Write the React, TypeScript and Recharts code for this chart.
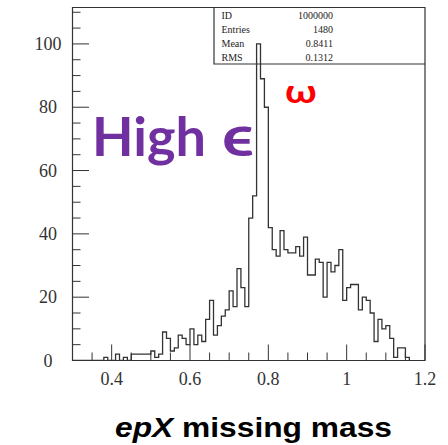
import React from 'react';
import { ComposedChart, Line, XAxis, YAxis, ReferenceArea } from 'recharts';

// Histogram binning: 0.01-wide bins starting at 0.30
const HIST_MIN = 0.3;
const BIN_WIDTH = 0.01;

// Counts per bin, from 0.30 up to 1.15
const counts = [
  0, 0, 0, 0, 0, 0, 0, 0, 1, 0,
  0, 2, 0, 1, 0, 2, 2, 2, 2, 2,
  3, 1, 2, 9, 7, 3, 4, 8, 7, 5,
  10, 5, 8, 6, 13, 19, 8, 11, 14, 16,
  22, 17, 29, 23, 17, 45, 52, 100, 89, 80,
  42, 35, 33, 41, 35, 34, 34, 36, 33, 39,
  27, 27, 32, 31, 20, 31, 28, 30, 35, 19,
  23, 24, 24, 16, 20, 19, 15, 6, 13, 10,
  11, 7, 1, 4, 4, 1,
];

const X_DOMAIN: [number, number] = [0.3, 1.2];
const Y_MAX = 111.5;

const xTicks = [0.3, 0.35, 0.4, 0.45, 0.5, 0.55, 0.6, 0.65, 0.7, 0.75, 0.8, 0.85, 0.9, 0.95, 1.0, 1.05, 1.1, 1.15, 1.2];
const xLabeled = [0.4, 0.6, 0.8, 1.0, 1.2];
const yTicks = [0, 5, 10, 15, 20, 25, 30, 35, 40, 45, 50, 55, 60, 65, 70, 75, 80, 85, 90, 95, 100, 105, 110];
const yLabeled = [0, 20, 40, 60, 80, 100];

const statNames = ['ID', 'Entries', 'Mean', 'RMS'];
const statValues = ['1000000', '1480', '0.8411', '0.1312'];

const W = 448;
const H = 445;
const PLOT = { left: 72.5, top: 7.5, right: 425, bottom: 360.5 };
const X_AXIS_H = 40;
const Y_AXIS_W = 50;
const INK = '#333';
const SERIF = '"Liberation Serif", "DejaVu Serif", serif';
const SANS = '"Liberation Sans", Arial, sans-serif';
const DISPLAY = 'Lato, "Open Sans", sans-serif';

// step-line points: each bin's low edge, plus a closing point back at zero
const histData = [
  ...counts.map((c, i) => ({ lo: HIST_MIN + i * BIN_WIDTH, count: c })),
  { lo: HIST_MIN + counts.length * BIN_WIDTH, count: 0 },
];

const isIn = (list: number[], v: number) => list.some((t) => Math.abs(t - v) < 1e-6);
const fmt = (v: number) => String(Number(v.toFixed(2)));

// ticks point inward from the frame; labels only on the major ones
const renderXTick = (props: any) => {
  const { x, payload, index } = props;
  const v = payload.value as number;
  const major = isIn(xLabeled, v);
  return (
    <g key={`xt-${index}`}>
      <line x1={x} x2={x} y1={PLOT.bottom} y2={PLOT.bottom - (major ? 16 : 8)} stroke={INK} strokeWidth={1} />
      {major && (
        <text x={x} y={385} textAnchor="middle" fontFamily={SERIF} fontSize={18} fill={INK}>
          {fmt(v)}
        </text>
      )}
    </g>
  );
};

const renderYTick = (props: any) => {
  const { y, payload, index } = props;
  const v = payload.value as number;
  const major = isIn(yLabeled, v);
  return (
    <g key={`yt-${index}`}>
      <line x1={PLOT.left} x2={PLOT.left + (major ? 16.5 : 8)} y1={y} y2={y} stroke={INK} strokeWidth={1} />
      {major && (
        <text x={48} y={y + 6} textAnchor="middle" fontFamily={SERIF} fontSize={18} fill={INK}>
          {fmt(v)}
        </text>
      )}
    </g>
  );
};

export default function App() {
  const boxLeft = 214;
  const boxBottom = 64;
  const rowBase = [18.5, 32.7, 46.9, 61.1];
  return (
    <div style={{ position: 'absolute', left: 0, top: 0, width: W, height: H, background: '#fff' }}>
      <ComposedChart
        width={W}
        height={H}
        data={histData}
        margin={{
          top: PLOT.top,
          right: W - PLOT.right,
          bottom: H - PLOT.bottom - X_AXIS_H,
          left: PLOT.left - Y_AXIS_W,
        }}
      >
        <XAxis
          type="number"
          dataKey="lo"
          domain={X_DOMAIN}
          ticks={xTicks}
          interval={0}
          height={X_AXIS_H}
          axisLine={false}
          tickLine={false}
          tick={renderXTick}
          allowDataOverflow
        />
        <YAxis
          type="number"
          domain={[0, Y_MAX]}
          ticks={yTicks}
          interval={0}
          width={Y_AXIS_W}
          axisLine={false}
          tickLine={false}
          tick={renderYTick}
          allowDataOverflow
        />
        <ReferenceArea
          x1={X_DOMAIN[0]}
          x2={X_DOMAIN[1]}
          y1={0}
          y2={Y_MAX}
          fill="none"
          stroke={INK}
          strokeWidth={1.2}
          ifOverflow="visible"
        />
        <Line
          type="stepAfter"
          dataKey="count"
          stroke={INK}
          strokeWidth={1.3}
          dot={false}
          activeDot={false}
          isAnimationActive={false}
        />
      </ComposedChart>
      <svg
        width={W}
        height={H}
        style={{ position: 'absolute', left: 0, top: 0, pointerEvents: 'none' }}
      >
        {/* statistics box */}
        <polyline
          points={`${boxLeft},${PLOT.top} ${boxLeft},${boxBottom} ${PLOT.right},${boxBottom}`}
          fill="none"
          stroke={INK}
          strokeWidth={1.2}
        />
        {statNames.map((n, i) => (
          <g key={n}>
            <text x={221.5} y={rowBase[i]} fontFamily={SERIF} fontSize={10} fill="#222">
              {n}
            </text>
            <text x={333} y={rowBase[i]} textAnchor="end" fontFamily={SERIF} fontSize={10} fill="#222">
              {statValues[i]}
            </text>
          </g>
        ))}
        <text x={92} y={156} fontFamily={DISPLAY} fontWeight={700} fontSize={54} fill="#7030A0">
          High
        </text>
        <text
          transform="translate(222,156) scale(1.22,1)"
          fontFamily={DISPLAY}
          fontWeight={700}
          fontSize={56}
          fill="#7030A0"
        >
          ϵ
        </text>
        <text
          transform="translate(285,103) scale(1.25,1)"
          fontFamily={DISPLAY}
          fontWeight={700}
          fontSize={32}
          fill="#FF0000"
        >
          ω
        </text>
        <text
          x={115}
          y={437}
          fontFamily={SANS}
          fontWeight={700}
          fontSize={28}
          fill="#000"
          textLength={277}
          lengthAdjust="spacingAndGlyphs"
        >
          <tspan fontStyle="italic">epX</tspan>
          <tspan> missing mass</tspan>
        </text>
      </svg>
    </div>
  );
}
